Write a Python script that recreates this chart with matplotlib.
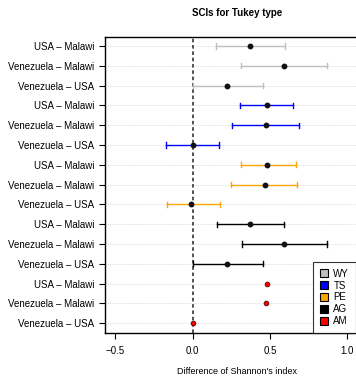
import matplotlib
matplotlib.use('Agg')
import matplotlib.pyplot as plt
from matplotlib.patches import Patch

plt.rcParams['font.family'] = ['Liberation Sans', 'DejaVu Sans']

# comparisons, top to bottom
labels = ['USA – Malawi', 'Venezuela – Malawi', 'Venezuela – USA'] * 5
groups = ['WY'] * 3 + ['TS'] * 3 + ['PE'] * 3 + ['AG'] * 3 + ['AM'] * 3
estimate = [0.372, 0.593, 0.223,
            0.478, 0.474, 0.002,
            0.483, 0.468, -0.008,
            0.372, 0.593, 0.223,
            0.478, 0.472, 0.000]
lower = [0.154, 0.316, 0.002,
         0.305, 0.255, -0.170,
         0.312, 0.249, -0.162,
         0.156, 0.320, 0.000,
         0.472, 0.466, -0.004]
upper = [0.595, 0.868, 0.457,
         0.651, 0.690, 0.173,
         0.667, 0.673, 0.177,
         0.593, 0.866, 0.455,
         0.484, 0.478, 0.004]
legend_names = ['WY', 'TS', 'PE', 'AG', 'AM']
colors = {'WY': '#bebebe', 'TS': '#0000ff', 'PE': '#ffa500', 'AG': '#000000', 'AM': '#ff0000'}

fig = plt.figure(figsize=(3.56, 3.79), dpi=100)
ax = fig.add_axes([0.295, 0.121, 0.744, 0.781])

n = len(labels)
ypos = list(range(n, 0, -1))

# dotted guide lines and the zero reference
for y in ypos:
    ax.axhline(y, color='#c8c8c8', lw=0.6, ls=(0, (1, 2)), zorder=0)
ax.axvline(0, color='#444444', lw=1.3, ls=(0, (2, 1.5)), zorder=1)

for i in range(n):
    c = colors[groups[i]]
    y = ypos[i]
    if groups[i] != 'AM':
        ax.plot([lower[i], upper[i]], [y, y], color=c, lw=1.0, zorder=2)
        ax.plot([lower[i], lower[i]], [y - 0.13, y + 0.13], color=c, lw=1.0, zorder=2)
        ax.plot([upper[i], upper[i]], [y - 0.13, y + 0.13], color=c, lw=1.0, zorder=2)
        ax.plot(estimate[i], y, 'o', ms=3.2, mfc='#111111', mec='#111111', zorder=3)
    else:
        ax.plot(estimate[i], y, 'o', ms=3.4, mfc='#ff0000', mec='#550000', mew=0.6, zorder=3)

ax.set_xlim(-0.565, 1.145)
ax.set_ylim(0.5, 15.45)
ax.set_yticks(ypos)
ax.set_yticklabels(labels, fontsize=7)
ax.set_xticks([-0.5, 0.0, 0.5, 1.0])
ax.set_xticklabels(['\u22120.5', '0.0', '0.5', '1.0'], fontsize=7)
ax.tick_params(axis='both', direction='out', length=4, width=0.8, pad=4)
ax.tick_params(axis='x', pad=5)
for s in ax.spines.values():
    s.set_linewidth(1.0)

ax.set_xlabel("Difference of Shannon's index", fontsize=6.5, labelpad=8)
ax.set_title('SCIs for Tukey type', fontsize=7, fontweight='bold', pad=15)

handles = [Patch(facecolor=colors[g], edgecolor='black', lw=0.8) for g in legend_names]
leg = ax.legend(handles, legend_names, loc='lower left', bbox_to_anchor=(0.785, 0.0),
                fontsize=7, frameon=True, fancybox=False, edgecolor='black',
                handlelength=0.8, handleheight=0.8, labelspacing=0.2,
                borderpad=0.7, handletextpad=0.6, borderaxespad=0)
leg.get_frame().set_linewidth(0.8)

fig.savefig('out.png', dpi=100)
